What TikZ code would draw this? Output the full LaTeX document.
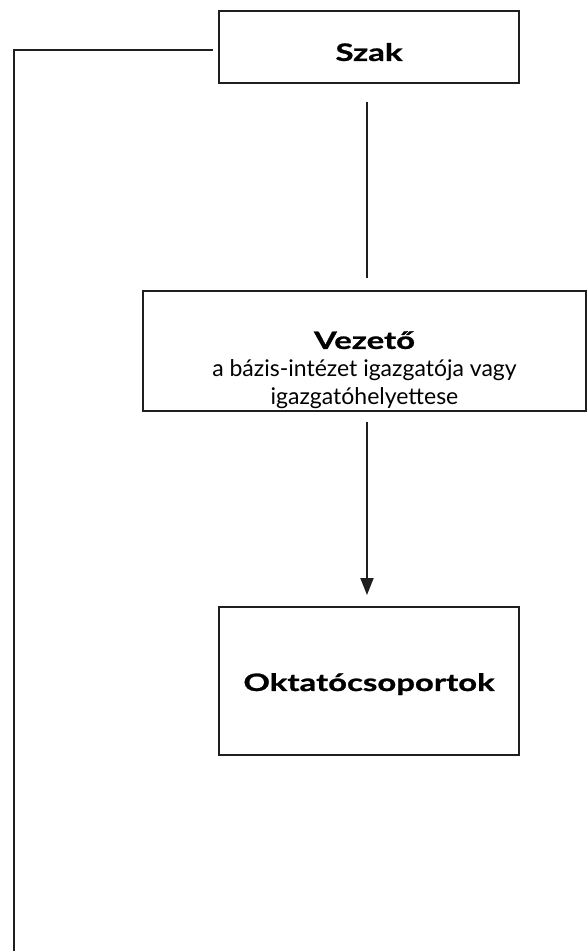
\documentclass[tikz,border=0pt]{standalone}
\usepackage{fontspec}
\setmainfont{Lato}
\newfontfamily\hdfont{Lato}[FakeStretch=1.37,FakeBold=1]
\newcommand{\hd}[1]{{\hdfont\fontsize{24}{28}\selectfont\bfseries #1}}
\usetikzlibrary{arrows.meta}
\begin{document}
\begin{tikzpicture}[x=1pt,y=-1pt,
  box/.style={draw=black!88, line width=2pt, rectangle, inner sep=0pt, align=center, font=\fontsize{23}{28}\selectfont},
  conn/.style={draw=black!88, line width=2pt}]
\useasboundingbox (0,0) rectangle (587,951);
\node[box, minimum width=300pt, minimum height=72pt] (szak) at (369,47) {\rule{0pt}{28pt}\hd{Szak}};
\node[box, minimum width=443pt, minimum height=120pt] (vezeto) at (364.5,351)
  {\rule{0pt}{56pt}\hd{Vezető}\\a bázis-intézet igazgatója vagy\\igazgatóhelyettese};
\node[box, minimum width=300pt, minimum height=148pt] (okt) at (369,681) {\rule{0pt}{24pt}\hd{Oktatócsoportok}};
\coordinate (vx) at (367,0);
\coordinate (bot) at (14,953);
\draw[conn, shorten <=18pt, shorten >=12pt] (szak.south -| vx) -- (vezeto.north -| vx);
\draw[conn, shorten <=10pt, shorten >=11pt, -{Triangle[width=13pt,length=17pt]}] (vezeto.south -| vx) -- (okt.north -| vx);
\draw[conn] ([shift={(-5pt,-3pt)}]szak.west) -| (bot);
\end{tikzpicture}
\end{document}
